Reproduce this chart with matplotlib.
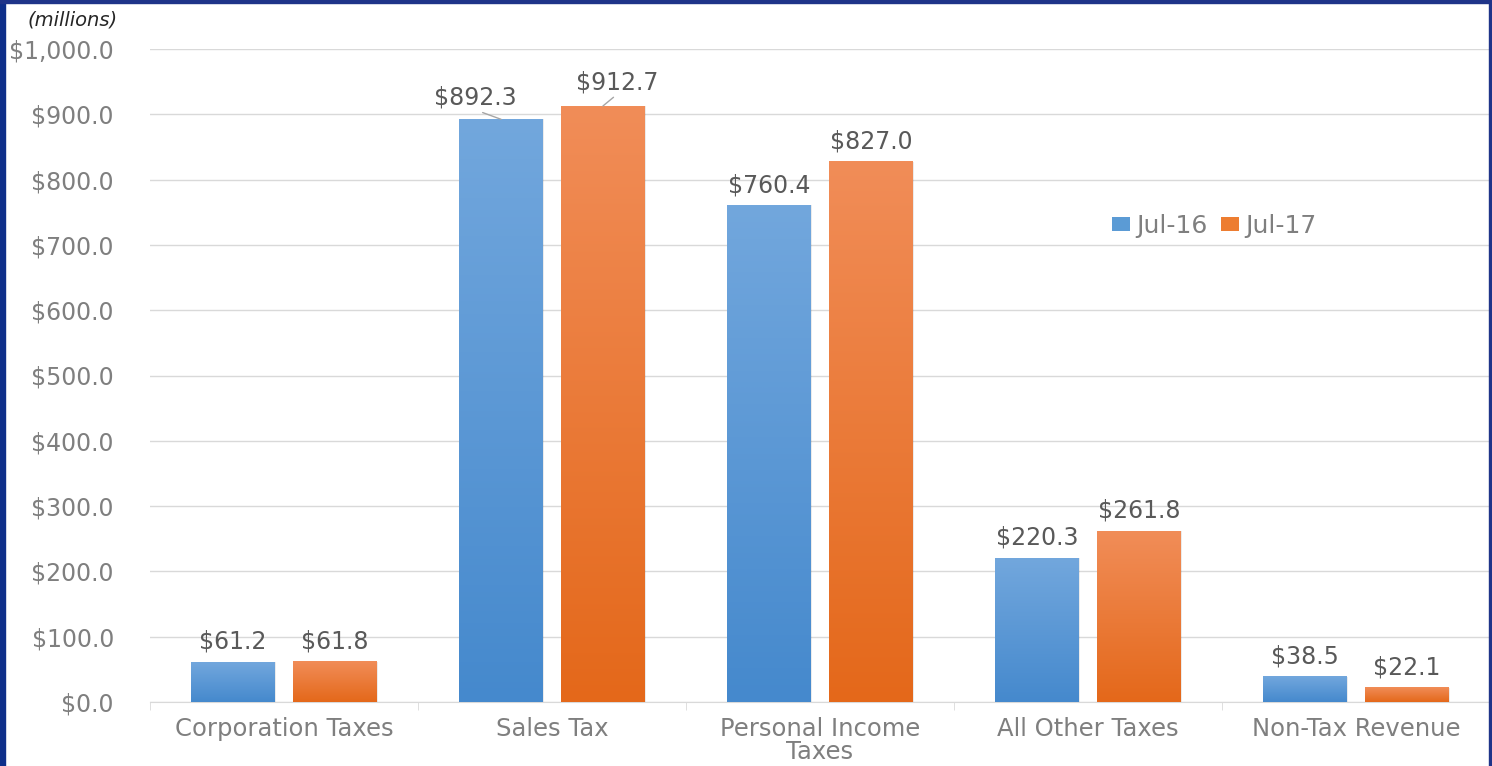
import numpy as np
import matplotlib
matplotlib.use("Agg")
from matplotlib import pyplot as plt
from matplotlib.colors import LinearSegmentedColormap
from matplotlib.patches import Rectangle

# Chart data
categories = ["Corporation Taxes", "Sales Tax", "Personal Income\nTaxes",
              "All Other Taxes", "Non-Tax Revenue"]
series_names = ["Jul-16", "Jul-17"]
jul16 = [61.2, 892.3, 760.4, 220.3, 38.5]
jul17 = [61.8, 912.7, 827.0, 261.8, 22.1]
yticks = [0, 100, 200, 300, 400, 500, 600, 700, 800, 900, 1000]

plt.rcParams['font.family'] = ['DejaVu Sans']

TEXT = "#595959"
TICK = "#7f7f7f"
GRID = "#d9d9d9"

# top colour -> bottom colour
gradients = [("#72a7dd", "#4589cd"), ("#f18d58", "#e4681a")]
solid = ["#5b9bd5", "#ed7d31"]

fig = plt.figure(figsize=(14.92, 7.66), dpi=100)
ax = fig.add_axes([150 / 1492, 1 - 702 / 766, 1340 / 1492, 653 / 766])

x = np.arange(len(categories))
width = 0.313
offset = 0.19

ax.set_xlim(-0.5, len(categories) - 0.5)
ax.set_ylim(0, 1000)

for s, (vals, (top, bot)) in enumerate(zip([jul16, jul17], gradients)):
    cmap = LinearSegmentedColormap.from_list("g%d" % s, [bot, top])
    grad = np.linspace(0, 1, 256).reshape(-1, 1)
    for i, v in enumerate(vals):
        cx = x[i] + (offset if s else -offset)
        # soft shadow
        ax.add_patch(Rectangle((cx - width / 2 + 0.004, 0), width, v,
                               facecolor="#000000", alpha=0.08, lw=0, zorder=2))
        ax.imshow(grad, cmap=cmap, origin="lower", aspect="auto",
                  extent=(cx - width / 2, cx + width / 2, 0, v), zorder=3)

        # data labels
        if i == 1:
            # Sales Tax labels sit off the bars with leader lines
            ty = v + (33 if s == 0 else 36)
            tx = cx + (-0.097 if s == 0 else 0.052)
            ax.annotate("$%.1f" % v, xy=(cx, v),
                        xytext=(tx, ty), ha="center", va="center",
                        fontsize=17, color=TEXT,
                        arrowprops=dict(arrowstyle="-", color="#a6a6a6", lw=1.0,
                                        shrinkA=0, shrinkB=0,
                                        relpos=(0.5, 0)))
        else:
            ax.text(cx, v + 31, "$%.1f" % v, ha="center", va="center",
                    fontsize=17, color=TEXT, zorder=4)

# legend handles
for s, name in enumerate(series_names):
    ax.bar([0], [0], color=solid[s], label=name)
leg = ax.legend(loc="center left", bbox_to_anchor=(0.718, 0.729), ncol=2,
                frameon=False, fontsize=18, labelcolor=TICK,
                borderpad=0, borderaxespad=0,
                handlelength=0.72, handleheight=0.48, handletextpad=0.24,
                columnspacing=0.56)

ax.set_yticks(yticks)
ax.set_yticklabels(["${:,.1f}".format(t) for t in yticks], fontsize=17, color=TICK)
ax.yaxis.grid(True, color=GRID, lw=1)
ax.set_axisbelow(True)
ax.tick_params(axis="y", length=0, pad=26)

ax.set_xticks(x)
ax.set_xticklabels(categories, fontsize=17.5, color=TICK, va="top", linespacing=0.95)
ax.tick_params(axis="x", length=0, pad=11)
ax.set_xticks(np.arange(-0.5, len(categories)), minor=True)
ax.tick_params(axis="x", which="minor", length=6, color=GRID)

for side in ["top", "right", "left"]:
    ax.spines[side].set_visible(False)
ax.spines["bottom"].set_color(GRID)

fig.text(28 / 1492, 1 - 20 / 766, "(millions)", fontsize=14, style="italic",
         color="#262626", va="center")

# dark blue frame
frame = "#1f3489"
fig.patches.append(Rectangle((0, 0), 5 / 1492, 1, transform=fig.transFigure,
                             color="#0e2f8a", zorder=10))
fig.patches.append(Rectangle((0, 1 - 3 / 766), 1, 3 / 766, transform=fig.transFigure,
                             color=frame, zorder=10))
fig.patches.append(Rectangle((1 - 3 / 1492, 0), 3 / 1492, 1, transform=fig.transFigure,
                             color=frame, zorder=10))

fig.savefig("out.png", dpi=100)
